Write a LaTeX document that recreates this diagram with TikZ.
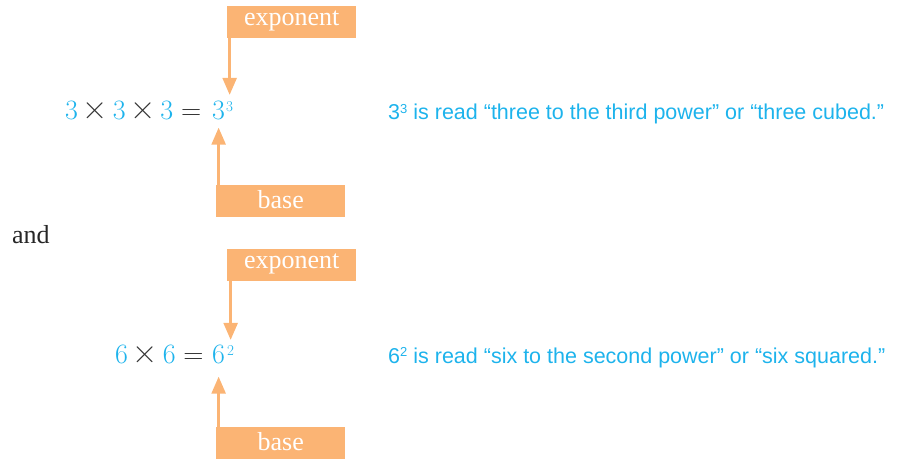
\documentclass[tikz,border=0pt]{standalone}
\usepackage{graphicx}
\usepackage{fontspec}
\setmainfont{Liberation Serif}
\newfontfamily\notefont{Liberation Sans}
\newfontfamily\eqfont{Latin Modern Roman}
\usetikzlibrary{arrows.meta,positioning}
\definecolor{boxorange}{HTML}{FBB474}
\definecolor{numblue}{HTML}{1DB3EC}
\definecolor{opgray}{HTML}{333333}
\newcommand{\bl}[1]{\textcolor{numblue}{#1}}
\newcommand{\tms}{\hspace{0.17em}\scalebox{1.25}{×}\hspace{0.17em}}
\newcommand{\eqs}{\hspace{0.28em}=}
\newcommand{\sups}[1]{\raisebox{0.32em}{\fontsize{13}{13}\selectfont #1}}

\begin{document}
\begin{tikzpicture}[x=1pt,y=1pt,
    lbl/.style={fill=boxorange, text=white, minimum width=129pt, minimum height=32pt,
        inner sep=0pt, text height=16pt, text depth=8pt, font=\fontsize{26}{26}\selectfont},
    lowlbl/.style={lbl, text height=19pt, text depth=5pt},
    ptr/.style={draw=boxorange, line width=2.5pt, -{Triangle[width=14pt,length=17pt]}},
    num/.style={inner sep=0pt, anchor=base west, text=numblue, font=\eqfont\fontsize{28}{28}\selectfont},
    pow/.style={inner sep=0pt, anchor=base west, text=numblue, font=\eqfont\fontsize{15}{15}\selectfont},
    note/.style={inner sep=0pt, anchor=base west, text=numblue, font=\notefont\fontsize{21.5}{21.5}\selectfont}]
    \useasboundingbox (0,0) rectangle (898,459);

    % Cube
    \node[num, text=opgray] (lhsA) at (65,339) {\bl{3}\tms\bl{3}\tms\bl{3}\eqs};
    \node[num] (baseNumA) at (212,339) {3};
    \node[pow] (expNumA) at (226,347) {3};
    \node[lbl, anchor=south west] (expA) at (227,421) {exponent};
    \node[lowlbl, anchor=north west] (baseA) at (216,274) {base};
    \draw[ptr] (expA.south west -| expNumA.north) -- ([yshift=7pt]expNumA.north);
    \draw[ptr] (baseA.north -| baseNumA.south) -- ([yshift=-7pt]baseNumA.south);
    \node[note] (noteA) at (388,339) {3\sups{3} is read “three to the third power” or “three cubed.”};

    \node[inner sep=0pt, anchor=base west, text=black!85, font=\fontsize{26}{26}\selectfont] (andword) at (12,216) {and};

    % Square
    \node[num, text=opgray] (lhsB) at (115,96) {\bl{6}\tms\bl{6}\eqs};
    \node[num] (baseNumB) at (212,96) {6};
    \node[pow] (expNumB) at (227,104) {2};
    \node[lbl, anchor=south west] (expB) at (227,178) {exponent};
    \node[lowlbl, anchor=north west] (baseB) at (216,32) {base};
    \draw[ptr] (expB.south west -| expNumB.north) -- ([yshift=5pt]expNumB.north);
    \draw[ptr] (baseB.north -| baseNumB.south) -- ([yshift=-13pt]baseNumB.south);
    \node[note] (noteB) at (388,96) {6\sups{2} is read “six to the second power” or “six squared.”};
\end{tikzpicture}
\end{document}
